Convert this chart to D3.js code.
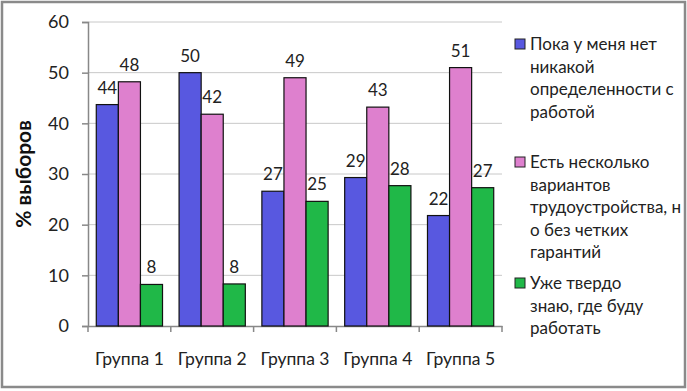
<!DOCTYPE html>
<html><head><meta charset="utf-8">
<script src="https://cdn.jsdelivr.net/npm/d3@7"></script>
<style>body{margin:0;background:#fff}svg{display:block}text{font-family:Lato,"Open Sans",sans-serif}</style>
</head><body><svg id="c" width="687" height="391"></svg>
<script>
const categories = ["Группа 1","Группа 2","Группа 3","Группа 4","Группа 5"];
const seriesNames = ["Пока у меня нет никакой определенности с работой","Есть несколько вариантов трудоустройства, но без четких гарантий","Уже твердо знаю, где буду работать"];
const seriesA = [43.7, 50.0, 26.6, 29.3, 21.8];
const seriesB = [48.2, 41.8, 49.0, 43.2, 51.0];
const seriesC = [8.2, 8.3, 24.6, 27.7, 27.3];
const labelsA = ["44","50","27","29","22"];
const labelsB = ["48","42","49","43","51"];
const labelsC = ["8","8","25","28","27"];
const yTicks = [0,10,20,30,40,50,60];
const legendLines = [["Пока у меня нет","никакой","определенности с","работой"],["Есть несколько","вариантов","трудоустройства, н","о без четких","гарантий"],["Уже твердо","знаю, где буду","работать"]];
const colors = ["#5858E0","#DE80CE","#20B848"];
const yTitle = "% выборов";

const svg = d3.select("#c");
svg.append("rect").attr("x",2).attr("y",2).attr("width",683).attr("height",385)
  .attr("fill","#fff").attr("stroke","#8a8a8a").attr("stroke-width",2.5);

const m = {l:88, r:502, t:22, b:326};
const x = d3.scaleBand().domain(categories).range([m.l,m.r]).paddingInner(0.2).paddingOuter(0.1);
const y = d3.scaleLinear().domain([0,60]).range([m.b,m.t]);
const xs = d3.scaleBand().domain([0,1,2]).range([0,x.bandwidth()]);

// gridlines
svg.append("g").selectAll("line").data(yTicks.filter(d=>d>0)).join("line")
  .attr("x1",m.l).attr("x2",m.r).attr("y1",d=>y(d)).attr("y2",d=>y(d))
  .attr("stroke","#c8c8c8").attr("stroke-width",1);

// y axis
const ya = svg.append("g").attr("transform",`translate(${m.l},0)`)
  .call(d3.axisLeft(y).tickValues(yTicks).tickSize(6).tickPadding(13));
ya.select(".domain").attr("stroke","#888").attr("stroke-width",1.5);
ya.selectAll(".tick line").attr("stroke","#888").attr("stroke-width",1.5);
ya.selectAll(".tick text").attr("font-size",18).attr("fill","#222").attr("font-family","Lato");

// x axis
const xa = svg.append("g").attr("transform",`translate(0,${m.b})`)
  .call(d3.axisBottom(x).tickSize(0).tickPadding(27));
xa.select(".domain").attr("stroke","#888").attr("stroke-width",1.5);
xa.selectAll(".tick text").attr("font-size",17.5).attr("fill","#222").attr("font-family","Lato");
// category separator ticks
const step = x.step();
const sepTicks = d3.range(categories.length+1).map(i=>m.l + i*step);
svg.append("g").selectAll("line").data(sepTicks).join("line")
  .attr("x1",d=>d).attr("x2",d=>d).attr("y1",m.b).attr("y2",m.b+6)
  .attr("stroke","#888").attr("stroke-width",1.5);

// bars
const series = [seriesA, seriesB, seriesC];
const labels = [labelsA, labelsB, labelsC];
series.forEach((s,si)=>{
  const g = svg.append("g");
  g.selectAll("rect").data(s).join("rect")
    .attr("x",(d,i)=>x(categories[i])+xs(si))
    .attr("y",d=>y(d)).attr("width",xs.bandwidth()).attr("height",d=>y(0)-y(d))
    .attr("fill",colors[si]).attr("stroke","#111").attr("stroke-width",1.2);
  g.selectAll("text").data(s).join("text")
    .attr("x",(d,i)=>x(categories[i])+xs(si)+xs.bandwidth()/2)
    .attr("y",d=>y(d)-11).attr("text-anchor","middle")
    .attr("font-size",17).attr("fill","#222")
    .text((d,i)=>labels[si][i]);
});

// y title
svg.append("text").attr("transform",`translate(31,${(m.t+m.b)/2}) rotate(-90)`)
  .attr("text-anchor","middle").attr("font-size",21).attr("font-weight","bold")
  .attr("font-family","Arial, 'Liberation Sans', sans-serif").attr("fill","#111").text(yTitle);

// legend
const legY = [50, 168, 289];
legendLines.forEach((lines,i)=>{
  const g = svg.append("g");
  g.append("rect").attr("x",515).attr("y",legY[i]-11).attr("width",10).attr("height",10)
    .attr("fill",colors[i]).attr("stroke","#222").attr("stroke-width",1);
  lines.forEach((t,j)=>{
    g.append("text").attr("x",530).attr("y",legY[i]+j*22.5).attr("font-size",17)
      .attr("fill","#222").text(t);
  });
});
</script></body></html>
